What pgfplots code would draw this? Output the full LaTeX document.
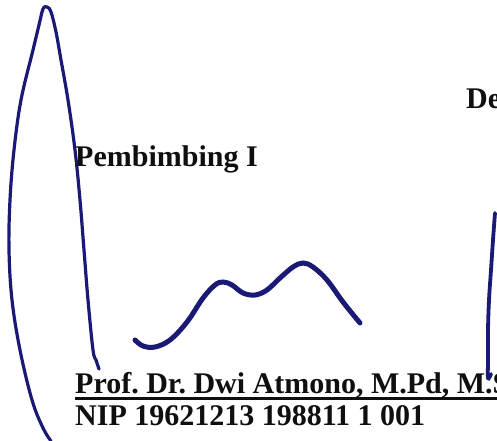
\documentclass[border=0pt]{standalone}
\usepackage{pgfplots}
\pgfplotsset{compat=1.18}
\usepackage{fontspec}
\setmainfont{Liberation Serif}
\frenchspacing
\definecolor{ink}{RGB}{26,26,118}
\definecolor{txt}{RGB}{15,15,15}
\begin{document}
\begin{tikzpicture}[
    lbl/.style={anchor=base west, inner sep=0pt, text=txt,
        font=\bfseries\fontsize{30bp}{32bp}\selectfont},
    ]
\begin{axis}[
    name=ax,
    width=497bp, height=441bp,
    scale only axis,
    axis lines=none,
    xmin=0, xmax=497,
    ymin=0, ymax=441,
    y dir=reverse,
    enlargelimits=false,
    clip=false,
    ]
% left loop stroke
\addplot[ink, line width=3.2bp, smooth, tension=0.6, line cap=round] coordinates {
    (99,369) (96,360) (93,350) (88,300) (84,250) (80,200) (75,150)
    (68,100) (61,60) (56,32) (51,12) (47,7) (43,9) (39,25) (33,50)
    (21,100) (14,150) (10,200) (9,250) (12,300) (20,350) (32,400)
    (43,428) (51,441)
};
% middle wave
\addplot[ink, line width=5bp, smooth, tension=0.6, line cap=round] coordinates {
    (135,340) (143,346) (155,347) (170,340) (187,322) (203,298)
    (215,285) (223,282) (232,285) (243,293) (255,295) (267,290)
    (280,278) (293,267) (303,263) (313,267) (327,280) (343,302) (360,323)
};
% right stroke
\addplot[ink, line width=3.8bp, smooth, tension=0.6, line cap=round] coordinates {
    (495,213) (493,240) (491,270) (489,300) (488,330) (488,360)
    (488,378) (491,374)
};
\node[lbl] at (axis cs:466,109) {De};
\node[lbl] at (axis cs:75,166) {Pembimbing I};
\node[lbl] at (axis cs:75,393) {\rlap{\rule[-6.5bp]{440bp}{2.2bp}}Prof. Dr. Dwi Atmono, M.Pd, M.Si.};
\node[lbl] at (axis cs:75,425) {NIP 19621213 198811 1 001};
\end{axis}
\pgfresetboundingbox
\useasboundingbox (ax.south west) rectangle (ax.north east);
\end{tikzpicture}
\end{document}
